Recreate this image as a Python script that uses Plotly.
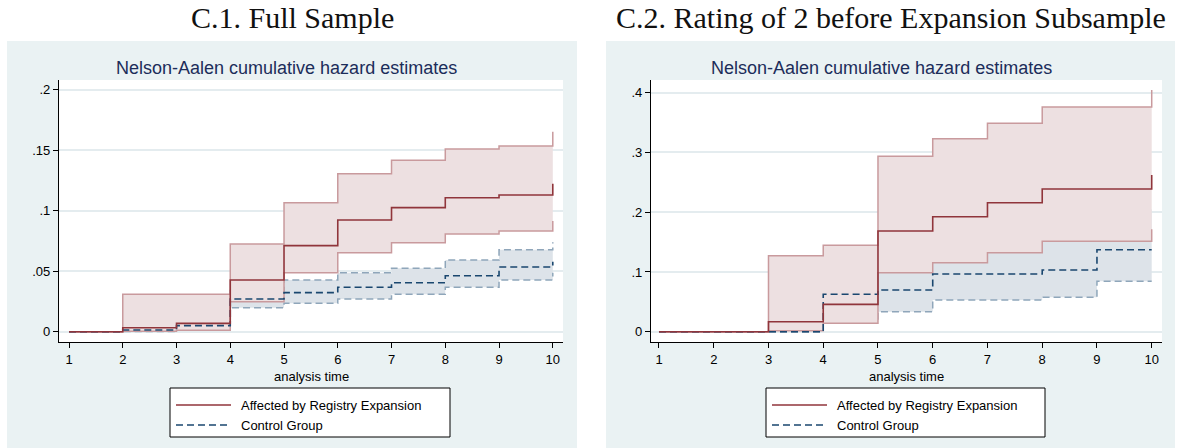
import plotly.graph_objects as go

# ---- data: Nelson-Aalen cumulative hazard with 95% CI, by analysis time ----
time = [1, 2, 3, 4, 5, 6, 7, 8, 9, 10]

# C.1 Full sample
aff_est_full = [0, 0.0033, 0.0069, 0.0427, 0.0711, 0.0923, 0.1025, 0.1107, 0.1130, 0.1223]
aff_lo_full = [0, 0.0004, 0.0012, 0.0248, 0.0488, 0.0653, 0.0736, 0.0807, 0.0832, 0.0915]
aff_hi_full = [0, 0.0309, 0.0309, 0.0725, 0.1066, 0.1306, 0.1416, 0.1510, 0.1535, 0.1653]
ctl_est_full = [0, 0.0014, 0.0050, 0.0270, 0.0323, 0.0367, 0.0405, 0.0463, 0.0535, 0.0579]
ctl_lo_full = [0, 0.0002, 0.0015, 0.0198, 0.0235, 0.0270, 0.0309, 0.0367, 0.0427, 0.0488]
ctl_hi_full = [0, 0.0050, 0.0090, 0.0340, 0.0427, 0.0488, 0.0524, 0.0593, 0.0678, 0.0739]

# C.2 Rating of 2 before expansion subsample
aff_est_sub = [0, 0, 0.0167, 0.0458, 0.1685, 0.1925, 0.2159, 0.2388, 0.2388, 0.2623]
aff_lo_sub = [0, 0, 0.0017, 0.0140, 0.0988, 0.1155, 0.1322, 0.1513, 0.1513, 0.1714]
aff_hi_sub = [0, 0, 0.1272, 0.1446, 0.2935, 0.3230, 0.3490, 0.3760, 0.3760, 0.4045]
ctl_est_sub = [0, 0, 0, 0.0626, 0.0698, 0.0966, 0.0966, 0.1033, 0.1372, 0.1372]
ctl_lo_sub = [0, 0, 0, 0.0200, 0.0335, 0.0530, 0.0530, 0.0576, 0.0843, 0.0843]
ctl_hi_sub = [0, 0, 0, 0.1200, 0.1300, 0.1550, 0.1550, 0.1600, 0.2050, 0.2050]

panel_titles = ["C.1. Full Sample", "C.2. Rating of 2 before Expansion Subsample"]
subtitle = "Nelson-Aalen cumulative hazard estimates"
xlabel = "analysis time"
series_names = ["Affected by Registry Expansion", "Control Group"]
ytick_vals_full = [0, 0.05, 0.1, 0.15, 0.2]
ytick_text_full = ["0", ".05", ".1", ".15", ".2"]
ytick_vals_sub = [0, 0.1, 0.2, 0.3, 0.4]
ytick_text_sub = ["0", ".1", ".2", ".3", ".4"]

# ---- styling ----
W, H = 1181, 448
BG = "#eaf2f3"
RED = "#90353b"
RED_CI = "#c99a9d"
RED_FILL = "#ede0e1"
BLUE = "#1a476f"
BLUE_CI = "#8fa6ba"
BLUE_FILL = "#dde3e9"
GRID = "#e4ecef"
DASH = "7px,4px"
SANS = "Liberation Sans, Arial, sans-serif"
SERIF = "Liberation Serif, Times New Roman, serif"


def px(x):
    return x / W


def py(y):
    return 1 - y / H


fig = go.Figure()


def add_panel(xa, ya, a_est, a_lo, a_hi, c_est, c_lo, c_hi):
    common = dict(x=time, mode="lines", xaxis=xa, yaxis=ya,
                  showlegend=False, hoverinfo="skip")
    # control group confidence band
    fig.add_trace(go.Scatter(y=c_lo, line=dict(shape="hv", color=BLUE_CI, width=1.5, dash=DASH), **common))
    fig.add_trace(go.Scatter(y=c_hi, line=dict(shape="hv", color=BLUE_CI, width=1.5, dash=DASH),
                             fill="tonexty", fillcolor=BLUE_FILL, **common))
    # affected group confidence band
    fig.add_trace(go.Scatter(y=a_lo, line=dict(shape="hv", color=RED_CI, width=1.5), **common))
    fig.add_trace(go.Scatter(y=a_hi, line=dict(shape="hv", color=RED_CI, width=1.5),
                             fill="tonexty", fillcolor=RED_FILL, **common))
    # point estimates
    fig.add_trace(go.Scatter(y=c_est, name=series_names[1],
                             line=dict(shape="hv", color=BLUE, width=1.6, dash=DASH), **common))
    fig.add_trace(go.Scatter(y=a_est, name=series_names[0],
                             line=dict(shape="hv", color=RED, width=1.6), **common))


add_panel("x", "y", aff_est_full, aff_lo_full, aff_hi_full, ctl_est_full, ctl_lo_full, ctl_hi_full)
add_panel("x2", "y2", aff_est_sub, aff_lo_sub, aff_hi_sub, ctl_est_sub, ctl_lo_sub, ctl_hi_sub)

# panel geometry (pixels)
panels = [
    dict(bg=(7, 41, 577, 448), plot=(59, 80, 563, 342), title_x=292, sub_x=286,
         leg=(170, 388, 450, 437)),
    dict(bg=(606, 41, 1175, 448), plot=(651, 80, 1162, 342), title_x=891, sub_x=881,
         leg=(766, 388, 1045, 437)),
]

shapes = []
annotations = []
for i, p in enumerate(panels):
    x0, y0, x1, y1 = p["bg"]
    shapes.append(dict(type="rect", xref="paper", yref="paper", layer="below",
                       x0=px(x0), x1=px(x1), y0=py(y1), y1=py(y0),
                       fillcolor=BG, line=dict(width=0)))
    x0, y0, x1, y1 = p["plot"]
    shapes.append(dict(type="rect", xref="paper", yref="paper", layer="below",
                       x0=px(x0), x1=px(x1), y0=py(y1), y1=py(y0),
                       fillcolor="white", line=dict(width=0)))
    # legend box
    lx0, ly0, lx1, ly1 = p["leg"]
    shapes.append(dict(type="rect", xref="paper", yref="paper", layer="above",
                       x0=px(lx0), x1=px(lx1), y0=py(ly1), y1=py(ly0),
                       fillcolor="white", line=dict(color="black", width=1)))
    row_y = [ly0 + 17, ly0 + 37]
    shapes.append(dict(type="line", xref="paper", yref="paper", layer="above",
                       x0=px(lx0 + 6), x1=px(lx0 + 61), y0=py(row_y[0]), y1=py(row_y[0]),
                       line=dict(color=RED, width=1.6)))
    shapes.append(dict(type="line", xref="paper", yref="paper", layer="above",
                       x0=px(lx0 + 6), x1=px(lx0 + 61), y0=py(row_y[1]), y1=py(row_y[1]),
                       line=dict(color=BLUE, width=1.6, dash=DASH)))
    for name, yy in zip(series_names, row_y):
        annotations.append(dict(text=name, xref="paper", yref="paper", x=px(lx0 + 69), y=py(yy),
                                xanchor="left", yanchor="middle", showarrow=False,
                                font=dict(family=SANS, size=13, color="black")))
    # titles
    annotations.append(dict(text=panel_titles[i], xref="paper", yref="paper",
                            x=px(p["title_x"]), y=py(18), xanchor="center", yanchor="middle",
                            showarrow=False, font=dict(family=SERIF, size=30, color="#111111")))
    annotations.append(dict(text=subtitle, xref="paper", yref="paper",
                            x=px(p["sub_x"]), y=py(68), xanchor="center", yanchor="middle",
                            showarrow=False, font=dict(family=SANS, size=18, color="#1c2d5a")))
    annotations.append(dict(text=xlabel, xref="paper", yref="paper",
                            x=px((x0 + x1) / 2), y=py(376), xanchor="center", yanchor="middle",
                            showarrow=False, font=dict(family=SANS, size=13, color="black")))

tickfont = dict(family=SANS, size=13, color="black")
xaxis_common = dict(showline=True, linecolor="black", linewidth=1.3, ticks="outside", ticklen=5,
                    tickcolor="black", tickwidth=1.2, showgrid=False, zeroline=False,
                    tickmode="array", tickvals=time, ticktext=[str(t) for t in time],
                    tickfont=tickfont)
yaxis_common = dict(showline=True, linecolor="black", linewidth=1.3, ticks="outside", ticklen=5,
                    tickcolor="black", tickwidth=1.2, showgrid=True, gridcolor=GRID, gridwidth=1.5,
                    zeroline=False, tickmode="array", tickfont=tickfont)

fig.update_layout(
    width=W, height=H,
    margin=dict(l=0, r=0, t=0, b=0),
    paper_bgcolor="white",
    plot_bgcolor="rgba(0,0,0,0)",
    showlegend=False,
    xaxis=dict(domain=[px(59), px(563)], range=[0.814, 10.19], anchor="y", **xaxis_common),
    yaxis=dict(domain=[py(342), py(80)], range=[-0.0085, 0.208], anchor="x",
               tickvals=ytick_vals_full, ticktext=ytick_text_full, **yaxis_common),
    xaxis2=dict(domain=[px(651), px(1162)], range=[0.854, 10.188], anchor="y2", **xaxis_common),
    yaxis2=dict(domain=[py(342), py(80)], range=[-0.0172, 0.4213], anchor="x2",
                tickvals=ytick_vals_sub, ticktext=ytick_text_sub, **yaxis_common),
    shapes=shapes,
    annotations=annotations,
)

fig.write_html("out.html")
